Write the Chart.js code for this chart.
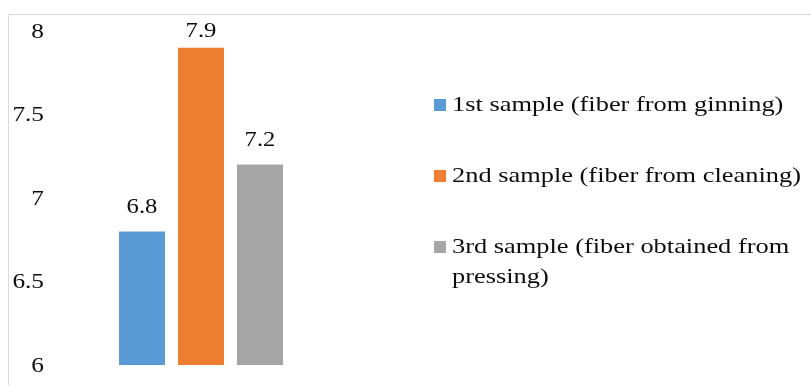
<!DOCTYPE html>
<html>
<head>
<meta charset="utf-8">
<script src="https://cdn.jsdelivr.net/npm/chart.js@4.4.1/dist/chart.umd.min.js"></script>
<style>
  html, body { margin: 0; padding: 0; background: #fff; }
  #wrap { width: 811px; height: 385px; }
</style>
</head>
<body>
<div id="wrap"><canvas id="grafico" width="811" height="385"></canvas></div>
<script>
const categories = [''];
const seriesNames = [
  '1st sample (fiber from ginning)',
  '2nd sample (fiber from cleaning)',
  '3rd sample (fiber obtained from pressing)'
];
const seriesValues = [6.8, 7.9, 7.2];
const seriesColors = ['#5b9bd5', '#ed7d31', '#a5a5a5'];
const yTicks = [6, 6.5, 7, 7.5, 8];

const FONT = 'Liberation Serif, "Times New Roman", serif';
const INK = '#0d0d0d';

// text drawn a little wider than the font's natural width
function wideText(c, text, x, y, sx, align) {
  c.save();
  c.translate(x, y);
  c.scale(sx, 1);
  c.textAlign = align;
  c.fillText(text, 0, 0);
  c.restore();
}

// light frame on the top and left
const frame = {
  id: 'frame',
  beforeDraw(chart) {
    const c = chart.ctx;
    c.save();
    c.strokeStyle = '#d9d9d9';
    c.lineWidth = 1;
    c.beginPath();
    c.moveTo(811, 14.5);
    c.lineTo(8.5, 14.5);
    c.lineTo(8.5, 385);
    c.stroke();
    c.restore();
  }
};

// y tick labels, placed by the y scale
const yLabels = {
  id: 'yLabels',
  afterDraw(chart) {
    const c = chart.ctx;
    const y = chart.scales.y;
    c.save();
    c.font = '22px ' + FONT;
    c.fillStyle = INK;
    c.textBaseline = 'middle';
    yTicks.forEach(v => wideText(c, String(v), 44, y.getPixelForValue(v) + 1, 1.15, 'right'));
    c.restore();
  }
};

// value above each bar
const valueLabels = {
  id: 'valueLabels',
  afterDatasetsDraw(chart) {
    const c = chart.ctx;
    c.save();
    c.font = '22px ' + FONT;
    c.fillStyle = INK;
    c.textBaseline = 'middle';
    chart.data.datasets.forEach((ds, i) => {
      const bar = chart.getDatasetMeta(i).data[0];
      const ty = Math.max(bar.y - 24, 31);
      wideText(c, ds.data[0].toFixed(1), bar.x, ty, 1.12, 'center');
    });
    c.restore();
  }
};

// legend on the right, wrapping long names
const sideLegend = {
  id: 'sideLegend',
  afterDraw(chart) {
    const c = chart.ctx;
    const x0 = 434, tx = 452, sx = 1.2, maxW = 811 - tx;
    const rowY = [105, 176, 247];
    c.save();
    c.font = '22px ' + FONT;
    c.textBaseline = 'middle';
    chart.data.datasets.forEach((ds, i) => {
      const words = ds.label.split(' ');
      const lines = [];
      let cur = '';
      words.forEach(w => {
        const t = cur ? cur + ' ' + w : w;
        if (c.measureText(t).width * sx > maxW && cur) { lines.push(cur); cur = w; }
        else cur = t;
      });
      lines.push(cur);
      c.fillStyle = ds.backgroundColor;
      c.fillRect(x0, rowY[i] - 6, 12, 12);
      c.fillStyle = INK;
      lines.forEach((ln, k) => wideText(c, ln, tx, rowY[i] + k * 30, sx, 'left'));
    });
    c.restore();
  }
};

const ctx = document.getElementById('grafico').getContext('2d');

const chart = new Chart(ctx, {
  type: 'bar',
  data: {
    labels: categories,
    datasets: seriesNames.map((name, i) => ({
      label: name,
      data: [seriesValues[i]],
      backgroundColor: seriesColors[i],
      categoryPercentage: 0.606,
      barPercentage: 0.78
    }))
  },
  options: {
    responsive: false,
    animation: false,
    layout: { padding: { left: 8, right: 464, top: 31, bottom: 20 } },
    plugins: {
      legend: { display: false },
      tooltip: { enabled: false }
    },
    scales: {
      x: { display: false },
      y: {
        min: 6,
        max: 8,
        afterFit: s => { s.width = 47; },
        afterBuildTicks: s => { s.ticks = yTicks.map(v => ({ value: v })); },
        grid: { display: false, drawTicks: false },
        border: { display: false },
        ticks: { display: false }
      }
    }
  },
  plugins: [frame, yLabels, valueLabels, sideLegend]
});
</script>
</body>
</html>
